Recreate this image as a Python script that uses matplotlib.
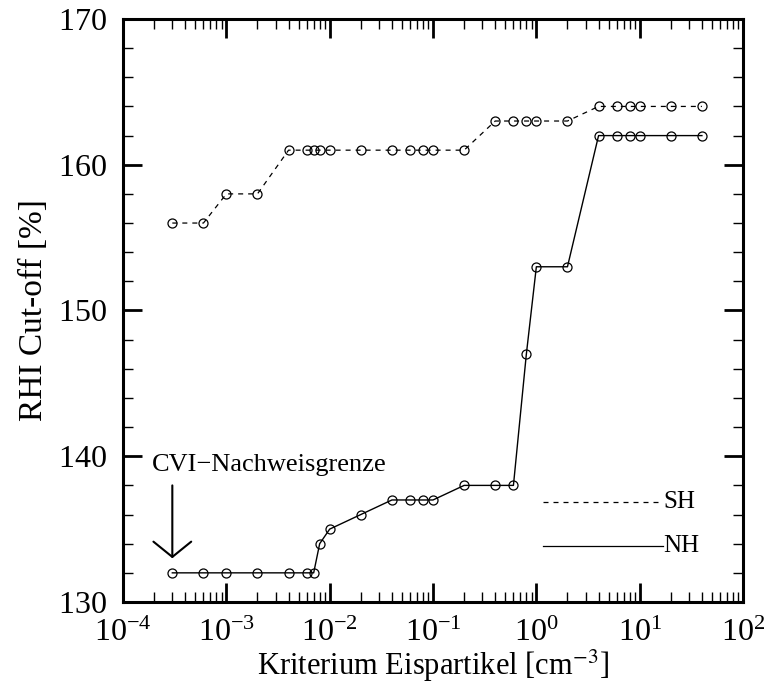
import numpy as np
import matplotlib.pyplot as plt
from matplotlib.ticker import LogLocator, MultipleLocator

plt.rcParams['font.family'] = ['Liberation Serif', 'DejaVu Serif']
plt.rcParams['mathtext.fontset'] = 'stix'
plt.rcParams['axes.formatter.use_mathtext'] = True

# Daten
x_krit = [3e-4, 6e-4, 1e-3, 2e-3, 4e-3, 6e-3, 7e-3, 8e-3, 1e-2, 2e-2, 4e-2,
          6e-2, 8e-2, 0.1, 0.2, 0.4, 0.6, 0.8, 1, 2, 4, 6, 8, 10, 20, 40]
rhi_sh = [156, 156, 158, 158, 161, 161, 161, 161, 161, 161, 161, 161, 161,
          161, 161, 163, 163, 163, 163, 163, 164, 164, 164, 164, 164, 164]
rhi_nh = [132, 132, 132, 132, 132, 132, 132, 134, 135, 136, 137, 137, 137,
          137, 138, 138, 138, 147, 153, 153, 162, 162, 162, 162, 162, 162]

fig = plt.figure(figsize=(7.66, 6.88), dpi=100)
ax = fig.add_axes([0.1606, 0.125, 0.8094, 0.8474])

ax.plot(x_krit, rhi_sh, color='black', lw=0.9, ls=(0, (4, 4)),
        marker='o', ms=6.5, mfc='none', mec='black', mew=0.9)
ax.plot(x_krit, rhi_nh, color='black', lw=1.0, ls='-',
        marker='o', ms=6.5, mfc='none', mec='black', mew=0.9)

ax.set_xscale('log')
ax.set_xlim(1e-4, 1e2)
ax.set_ylim(130, 170)
ax.yaxis.set_major_locator(MultipleLocator(10))
ax.yaxis.set_minor_locator(MultipleLocator(2))
ax.xaxis.set_major_locator(LogLocator(base=10, numticks=10))
ax.xaxis.set_minor_locator(LogLocator(base=10, subs=np.arange(2, 10), numticks=20))

ax.tick_params(which='both', direction='in', top=True, right=True,
               labelsize=23)
ax.tick_params(axis='y', pad=12)
ax.tick_params(axis='x', pad=12)
ax.tick_params(which='major', length=14, width=2)
ax.tick_params(which='minor', length=7, width=1)
for sp in ax.spines.values():
    sp.set_linewidth(2.2)

ax.set_xlabel('Kriterium Eispartikel [cm$^{-3}$]', fontsize=22, labelpad=0)
ax.set_ylabel('RHI Cut-off [%]', fontsize=24, labelpad=6)

# Legende von Hand
ax.plot([0.677, 0.871], [0.1715, 0.1715], transform=ax.transAxes,
        color='black', lw=0.9, ls=(0, (4, 4)))
ax.text(0.872, 0.1715, 'SH', transform=ax.transAxes, fontsize=18,
        va='center', ha='left')
ax.plot([0.677, 0.871], [0.096, 0.096], transform=ax.transAxes,
        color='black', lw=0.9)
ax.text(0.872, 0.096, 'NH', transform=ax.transAxes, fontsize=18,
        va='center', ha='left')

# Nachweisgrenze
ax.text(1.9e-4, 139.4, 'CVI\u2212Nachweisgrenze', fontsize=19,
        va='center', ha='left')
ax.annotate('', xy=(3e-4, 133.0), xytext=(3e-4, 138.0),
            arrowprops=dict(arrowstyle='->,head_length=0.55,head_width=0.68',
                            mutation_scale=20, lw=1.5, color='black',
                            shrinkA=0, shrinkB=0))

fig.savefig('out.png', dpi=100)
